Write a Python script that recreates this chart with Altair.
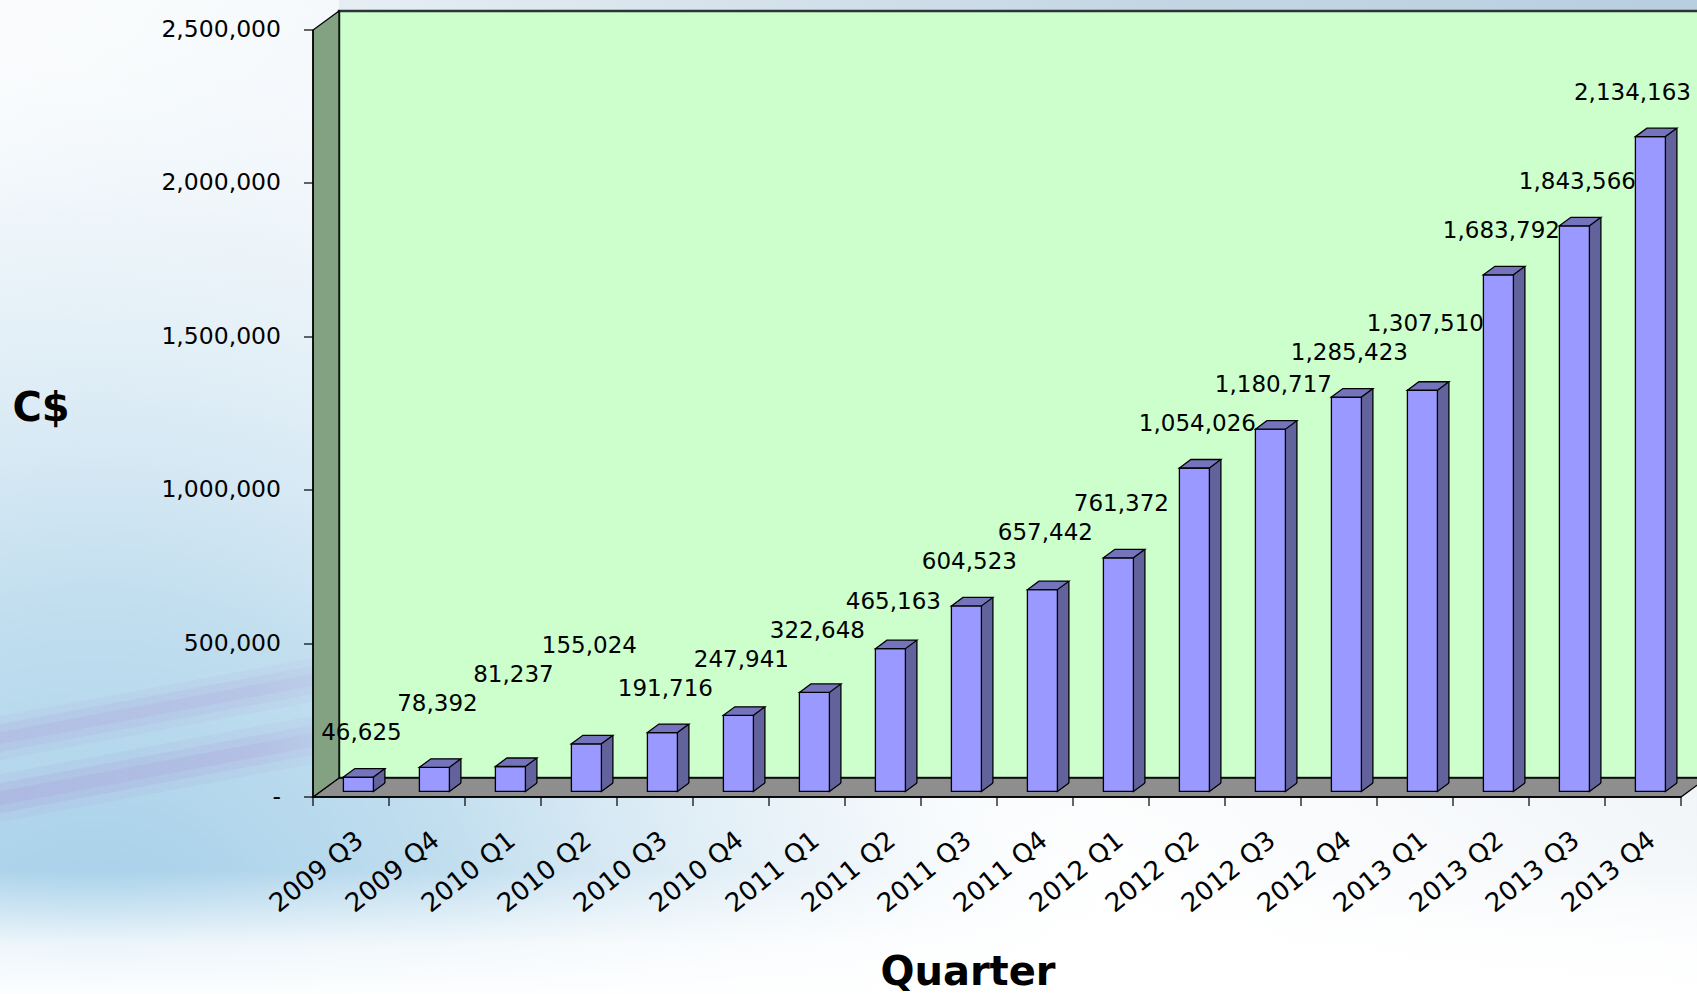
import altair as alt
import pandas as pd

# ---- data -------------------------------------------------------------
QUARTERS = ["2009 Q3", "2009 Q4", "2010 Q1", "2010 Q2", "2010 Q3", "2010 Q4",
            "2011 Q1", "2011 Q2", "2011 Q3", "2011 Q4", "2012 Q1", "2012 Q2",
            "2012 Q3", "2012 Q4", "2013 Q1", "2013 Q2", "2013 Q3", "2013 Q4"]
REVENUE = [46625, 78392, 81237, 155024, 191716, 247941, 322648, 465163, 604523,
           657442, 761372, 1054026, 1180717, 1285423, 1307510, 1683792, 1843566,
           2134163]
Y_TICKS = [0, 500000, 1000000, 1500000, 2000000, 2500000]

# ---- layout (pixels) --------------------------------------------------
FONT = "DejaVu Sans"
PAGE_W, PAGE_H = 1697, 994
PAD_L, PAD_T = 339, 11          # back wall's top-left corner on the page
PLOT_W, PLOT_H = PAGE_W - PAD_L, 767
BAND_RANGE = 1368               # full category axis length
PAD_B = PAGE_H - PAD_T - PLOT_H
DEPTH_X, DEPTH_Y = 26, 19       # depth of the 3-D box (back wall -> front axes)
FX, FY = -18.6, 13.4            # bar front faces sit inside the box
BAR_W = 30                      # front face width
SIDE_X, SIDE_Y = 11.5, 8.5      # bar depth
HALF = BAR_W / 2
LABEL_SIZE = 23
LABEL_RISE = 44                 # label centre above the bar's front top

FRONT = "#9999FF"
SIDE = "#62629C"
TOP = "#7474BC"

# ---- value-label placement: lift a label that would collide with one on its left
step = BAND_RANGE / len(QUARTERS)
px_per_unit = PLOT_H / Y_TICKS[-1]


def text_width(s):
    return sum(0.318 if ch == "," else 0.636 for ch in s) * LABEL_SIZE


label_y, at_edge, boxes = [], [], []
for i, v in enumerate(REVENUE):
    txt = f"{v:,}"
    w = text_width(txt)
    cx = step * (i + 0.5) + FX + 3
    edge = cx + w / 2 > PLOT_W - 6
    if edge:
        cx = PLOT_W - 6 - w / 2
    cy = PLOT_H - v * px_per_unit + FY - LABEL_RISE
    for (bx, by, bw) in boxes:
        if abs(cx - bx) < (w + bw) / 2 and abs(cy - by) < LABEL_SIZE + 4:
            cy = min(cy, by - LABEL_SIZE - 6)
    boxes.append((cx, cy, w))
    label_y.append((PLOT_H - (cy - FY + LABEL_RISE)) / px_per_unit)
    at_edge.append(edge)

df = pd.DataFrame({"quarter": QUARTERS, "revenue": REVENUE,
                   "label_y": label_y, "at_edge": at_edge})
one = alt.Data(values=[{"k": 0}])


def path(points, close=True):
    s = "M " + " L ".join(f"{x:.1f},{y:.1f}" for x, y in points)
    return s + (" Z" if close else "")


def page(x, y):
    """page coordinates -> plot coordinates"""
    return (x - PAD_L, y - PAD_T)


# ---- scales and axes --------------------------------------------------
x_scale = alt.Scale(type="band", range=[0, BAND_RANGE], paddingInner=0, paddingOuter=0)
y_scale = alt.Scale(domain=[0, Y_TICKS[-1]], nice=False, zero=True)

x_axis = alt.Axis(
    title="Quarter", titleFont=FONT, titleFontSize=40, titleFontWeight="bold",
    titleColor="black", titleX=655, titleY=188, titleAlign="center",
    titleBaseline="alphabetic",
    labelAngle=321, labelAlign="right", labelBaseline="top", labelFont=FONT,
    labelFontSize=26, labelColor="black", labelPadding=21, labelOffset=1,
    labelOverlap=False,
    tickBand="extent", tickSize=9, tickColor="black", tickWidth=1.2,
    domainColor="black", domainWidth=1.5, grid=False, zindex=1,
    offset=DEPTH_X + DEPTH_Y, translate=-DEPTH_X,
)
y_axis = alt.Axis(
    values=Y_TICKS,
    labelExpr="datum.value == 0 ? '-\u00a0\u00a0' : format(datum.value, ',')",
    title="C$", titleAngle=0, titleFont=FONT, titleFontSize=40,
    titleFontWeight="bold", titleColor="black", titleX=-272, titleY=391,
    titleAlign="center", titleBaseline="alphabetic",
    labelFont=FONT, labelFontSize=23.5, labelColor="black", labelPadding=23,
    tickSize=9, tickColor="black", tickWidth=1.2,
    domainColor="black", domainWidth=1.5, grid=False, zindex=1,
    offset=DEPTH_X + DEPTH_Y, translate=DEPTH_Y,
)

X = alt.X("quarter:N", sort=QUARTERS, scale=x_scale, axis=x_axis)
Y = alt.Y("revenue:Q", scale=y_scale, axis=y_axis)

# ---- page background --------------------------------------------------
def stops(*pairs):
    return [alt.GradientStop(offset=o, color=c) for o, c in pairs]


FULL = dict(x=alt.value(-PAD_L), x2=alt.value(PLOT_W),
            y=alt.value(-PAD_T), y2=alt.value(PLOT_H + PAD_B))

bg = alt.Chart(one).mark_rect(
    fill=alt.LinearGradient(
        gradient="linear", x1=0.35, y1=0.55, x2=1, y2=0,
        stops=stops((0, "#FFFFFF"), (0.5, "#EEF3F7"), (1, "#C0D4E3")),
    ),
).encode(**FULL)

glow = alt.Chart(one).mark_rect(
    fill=alt.RadialGradient(
        gradient="radial", x1=0.07, y1=0.86, r1=0, x2=0.07, y2=0.86, r2=0.8,
        stops=stops((0, "rgba(160,205,232,1)"), (0.35, "rgba(182,216,236,0.85)"),
                    (0.7, "rgba(215,232,243,0.45)"), (1, "rgba(255,255,255,0)")),
    ),
).encode(x=alt.value(-PAD_L), x2=alt.value(1350 - PAD_L),
         y=alt.value(-PAD_T), y2=alt.value(PLOT_H + PAD_B))

fade = alt.Chart(one).mark_rect(
    fill=alt.LinearGradient(
        gradient="linear", x1=0, y1=0, x2=0, y2=1,
        stops=stops((0, "rgba(255,255,255,0)"), (0.6, "rgba(255,255,255,0.8)"),
                    (1, "rgba(255,255,255,0.97)")),
    ),
).encode(x=alt.value(-PAD_L), x2=alt.value(PLOT_W),
         y=alt.value(870 - PAD_T), y2=alt.value(PLOT_H + PAD_B))

top_strip = alt.Chart(one).mark_rect(
    fill=alt.LinearGradient(
        gradient="linear", x1=0, y1=0, x2=1, y2=0,
        stops=stops((0, "#E6EEF4"), (0.6, "#C4D6E4"), (1, "#B8CFE0")),
    ),
).encode(x=alt.value(0), x2=alt.value(PLOT_W), y=alt.value(-PAD_T), y2=alt.value(0))


def streak(x0, y0, x1, y1, half, alpha):
    pts = [page(x0, y0 - half), page(x1, y1 - half), page(x1, y1 + half), page(x0, y0 + half)]
    grad = alt.LinearGradient(
        gradient="linear", x1=0, y1=0, x2=1, y2=0,
        stops=stops((0, f"rgba(168,146,212,{alpha})"),
                    (0.75, f"rgba(168,146,212,{alpha * 0.85:.2f})"),
                    (1, "rgba(168,146,212,0.05)")),
    )
    return alt.Chart(one).mark_point(
        shape=path(pts), size=4, filled=True, fill=grad, strokeWidth=0, opacity=1,
    ).encode(x=alt.value(0), y=alt.value(0))


streaks = [
    streak(-20, 742, 345, 674, 22, 0.10),
    streak(-20, 742, 345, 674, 14, 0.14),
    streak(-20, 742, 345, 674, 6, 0.16),
    streak(-20, 802, 345, 734, 24, 0.12),
    streak(-20, 802, 345, 734, 15, 0.18),
    streak(-20, 802, 345, 734, 7, 0.20),
]

# ---- 3-D box: back wall, floor, left wall ----------------------------
back_wall = alt.Chart(one).mark_rect(
    fill="#CCFFCC", stroke="#2B3535", strokeWidth=2.5, opacity=1,
).encode(x=alt.value(0), x2=alt.value(BAND_RANGE),
         y=alt.datum(Y_TICKS[-1]), y2=alt.datum(0))

floor = alt.Chart(one).mark_point(
    shape=path([(0, 0), (BAND_RANGE, 0), (BAND_RANGE - DEPTH_X, DEPTH_Y), (-DEPTH_X, DEPTH_Y)]),
    size=4, filled=True, fill="#8E8E8E", stroke="black", strokeWidth=1.3, opacity=1,
).encode(x=alt.value(0), y=alt.datum(0))

left_wall = alt.Chart(one).mark_point(
    shape=path([(0, 0), (0, PLOT_H), (-DEPTH_X, PLOT_H + DEPTH_Y), (-DEPTH_X, DEPTH_Y)]),
    size=4, filled=True, fill="#82A282", stroke="black", strokeWidth=1.3, opacity=1,
).encode(x=alt.value(0), y=alt.datum(Y_TICKS[-1]))

# ---- 3-D columns --------------------------------------------------------
bars = alt.Chart(df)

side = bars.mark_bar(
    width=SIDE_X, xOffset=FX + HALF + SIDE_X / 2, yOffset=FY - SIDE_Y,
    y2Offset=FY - SIDE_Y, fill=SIDE, strokeWidth=0, opacity=1,
).encode(x=X, y=Y)

side_edge = bars.mark_rule(
    xOffset=FX + HALF + SIDE_X, yOffset=FY - SIDE_Y, y2Offset=FY - SIDE_Y,
    color="black", strokeWidth=1.3, opacity=1,
).encode(x=X, y=Y, y2=alt.datum(0))

side_foot = bars.mark_point(
    shape=path([(HALF, -SIDE_Y), (HALF, 0), (HALF + SIDE_X, -SIDE_Y)], close=False),
    size=4, filled=True, fill=SIDE, stroke="black", strokeWidth=1.3, opacity=1,
    xOffset=FX, yOffset=FY,
).encode(x=X, y=alt.datum(0))

front = bars.mark_bar(
    width=BAR_W, xOffset=FX, yOffset=FY, y2Offset=FY,
    fill=FRONT, stroke="black", strokeWidth=1.3, opacity=1,
).encode(x=X, y=Y)

top = bars.mark_point(
    shape=path([(-HALF, 0), (-HALF + SIDE_X, -SIDE_Y), (HALF + SIDE_X, -SIDE_Y), (HALF, 0)]),
    size=4, filled=True, fill=TOP, stroke="black", strokeWidth=1.3, opacity=1,
    xOffset=FX, yOffset=FY,
).encode(x=X, y=Y)

LABEL_Y = alt.Y("label_y:Q", scale=y_scale, axis=y_axis)
TEXT = alt.Text("revenue:Q", format=",")

labels = bars.transform_filter("!datum.at_edge").mark_text(
    font=FONT, fontSize=LABEL_SIZE, color="black", align="center", baseline="middle",
    dx=FX + 3, dy=FY - LABEL_RISE,
).encode(x=X, y=LABEL_Y, text=TEXT)

edge_labels = bars.transform_filter("datum.at_edge").mark_text(
    font=FONT, fontSize=LABEL_SIZE, color="black", align="right", baseline="middle",
    dy=FY - LABEL_RISE,
).encode(x=alt.value(PLOT_W - 6), y=LABEL_Y, text=TEXT)

chart = alt.layer(
    bg, glow, fade, top_strip, *streaks,
    back_wall, floor, left_wall,
    side, side_edge, side_foot, front, top, labels, edge_labels,
).properties(
    width=PLOT_W,
    height=PLOT_H,
    padding={"left": PAD_L, "top": PAD_T, "right": 0, "bottom": PAD_B},
    autosize=alt.AutoSizeParams(type="none"),
    background="white",
).configure_view(strokeWidth=0)

chart.save("out.html", embed_options={"renderer": "svg", "actions": False})
